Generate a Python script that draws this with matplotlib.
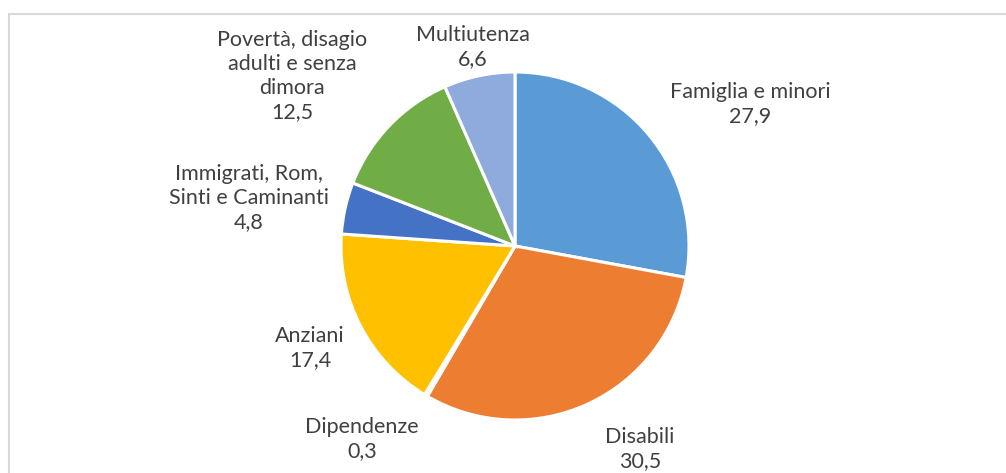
import matplotlib
matplotlib.use("Agg")
import matplotlib.pyplot as plt
from matplotlib.patches import Rectangle

categories = ["Famiglia e minori", "Disabili", "Dipendenze", "Anziani",
              "Immigrati, Rom,\nSinti e Caminanti", "Povertà, disagio\nadulti e senza\ndimora",
              "Multiutenza"]
values = [27.9, 30.5, 0.3, 17.4, 4.8, 12.5, 6.6]
value_labels = ["27,9", "30,5", "0,3", "17,4", "4,8", "12,5", "6,6"]

colors = ["#5B9BD5", "#ED7D31", "#A5A5A5", "#FFC000", "#4472C4", "#70AD47", "#8FAADC"]

# label anchor positions (pixel coords, top-left origin) - layout only
label_pos = [(750, 104), (640, 449), (362, 439), (310, 348), (249, 198), (292, 76), (473, 47)]

W, H = 1006, 473
fig = plt.figure(figsize=(W / 100, H / 100), dpi=100)
ax = fig.add_axes([0, 0, 1, 1])

cx, cy, r = 515, H - 246, 174
ax.pie(values, colors=colors, startangle=90, counterclock=False,
       center=(cx, cy), radius=r, frame=True,
       wedgeprops=dict(edgecolor="white", linewidth=2.2))
ax.set_xlim(0, W)
ax.set_ylim(0, H)
ax.set_aspect("equal")
ax.axis("off")

# chart-area border (cropped on right/bottom)
ax.add_patch(Rectangle((9.5, -20), 1100, H - 14.5 + 20, fill=False,
                       edgecolor="#D9D9D9", linewidth=1.5))

for cat, val, (px, py) in zip(categories, value_labels, label_pos):
    ax.text(px, H - py, cat + "\n" + val, ha="center", va="center",
            fontsize=15.5, color="#404040", family="Lato", linespacing=1.27)

fig.savefig("out.png", dpi=100)
